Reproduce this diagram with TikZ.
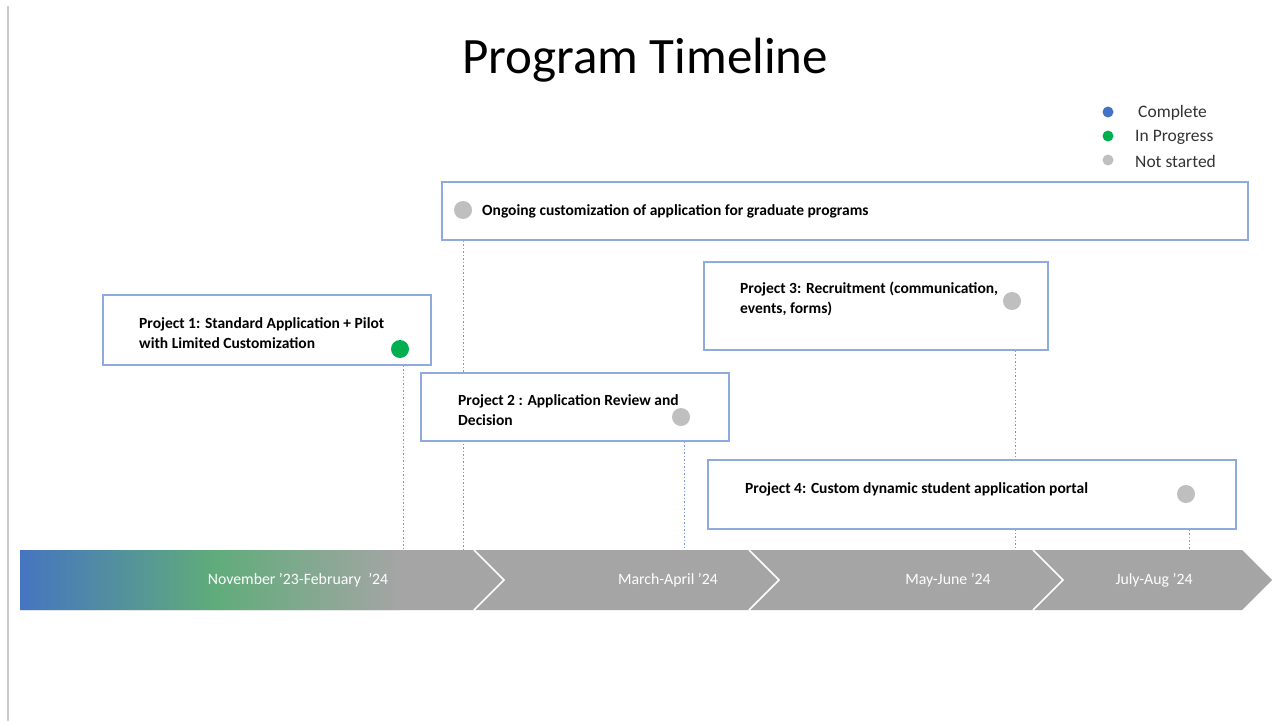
\documentclass[tikz,border=0pt]{standalone}
\usepackage{fontspec}
\setmainfont{Carlito}
\usetikzlibrary{positioning,calc,backgrounds}
\definecolor{done}{RGB}{68,114,196}
\definecolor{progress}{RGB}{0,176,80}
\definecolor{notstarted}{RGB}{191,191,191}
\definecolor{bandgray}{RGB}{165,165,165}
\definecolor{boxline}{RGB}{143,170,220}
\definecolor{guideblue}{RGB}{120,152,218}
\definecolor{midgreen}{RGB}{96,172,122}

\begin{document}
\begin{tikzpicture}[x=1pt,y=-1pt,
    taskbox/.style={draw=boxline, line width=1.2pt, fill=white, inner sep=0pt},
    tasktext/.style={anchor=west, align=left, inner sep=0pt, font=\fontsize{15.5}{20}\selectfont\bfseries},
    statusdot/.style={circle, fill=#1, inner sep=0pt, minimum size=18pt},
    keydot/.style={circle, fill=#1, inner sep=0pt, minimum size=11pt},
    keytext/.style={anchor=west, inner sep=0pt, text=black!80, font=\fontsize{17.5}{20}\selectfont},
    guide/.style={guideblue, dash pattern=on 1.5pt off 2pt, line width=1pt},
    phase/.style={text=white, font=\fontsize{15.8}{18}\selectfont}]
        \useasboundingbox (0,0) rectangle (1273,721);
        \draw[black!20, line width=1.5pt] (8,6) -- (8,721);

        \node[font=\fontsize{51}{56}\selectfont] (title) at (645,60) {Program Timeline};

        % legend
        \node[keydot=done] (kdone) at (1108,112) {};
        \node[keydot=progress] (kprog) at (1108,136) {};
        \node[keydot=notstarted] (knot) at (1108,160) {};
        \node[keytext] (kdonetext) at (1138,113) {Complete};
        \node[keytext] (kprogtext) at (1135,137) {In Progress};
        \node[keytext] (knottext) at (1135,161) {Not started};

        % project boxes
        \node[taskbox, minimum width=806pt, minimum height=58pt] (ongoing) at (845,211) {};
        \node[taskbox, minimum width=328pt, minimum height=70pt] (p1) at (267,330) {};
        \node[taskbox, minimum width=308pt, minimum height=68pt] (p2) at (575,407) {};
        \node[taskbox, minimum width=344pt, minimum height=88pt] (p3) at (876,306) {};
        \node[taskbox, minimum width=528pt, minimum height=69pt] (p4) at (972,494.5) {};

        \node[tasktext] (ongoingtext) at (482,211) {Ongoing customization of application for graduate programs};
        \node[tasktext] (p1text) at (139,333) {Project 1: Standard Application + Pilot\\with Limited Customization};
        \node[tasktext] (p2text) at (458,410) {Project 2 : Application Review and\\Decision};
        \node[tasktext] (p3text) at (740,299) {Project 3: Recruitment (communication,\\events, forms)};
        \node[tasktext] (p4text) at (745,489) {Project 4: Custom dynamic student application portal};

        \node[statusdot=notstarted] (ongoingdot) at (463,210) {};
        \node[statusdot=progress] (p1dot) at (400,349) {};
        \node[statusdot=notstarted] (p2dot) at (681,417) {};
        \node[statusdot=notstarted] (p3dot) at (1012,301) {};
        \node[statusdot=notstarted] (p4dot) at (1186,494) {};

        % timeline band
        \coordinate (bandtop) at (0,550);
        \begin{scope}
          \clip (20,550) -- (1242,550) -- (1272,580) -- (1242,610) -- (20,610) -- cycle;
          \fill[bandgray] (10,540) rectangle (1280,620);
          \shade[left color=done, right color=midgreen] (10,540) rectangle (216,620);
          \shade[left color=midgreen, right color=bandgray] (215,540) rectangle (400,620);
        \end{scope}
        \foreach \x in {474,749,1033}
          \draw[white, line width=1.5pt] (\x,550) -- (\x+30,580) -- (\x,610);

        \node[phase] (nov) at (298,580) {November '23-February \ '24};
        \node[phase] (mar) at (668,580) {March-April '24};
        \node[phase] (may) at (948,580) {May-June '24};
        \node[phase] (jul) at (1154,580) {July-Aug '24};

        \begin{scope}[on background layer]
          \draw[guide] (ongoingdot |- ongoing.south) -- (ongoingdot |- bandtop);
          \draw[guide] ([xshift=3pt]p1dot |- p1.south) -- ([xshift=3pt]p1dot |- bandtop);
          \draw[guide] ([xshift=3pt]p2dot |- p2.south) -- ([xshift=3pt]p2dot |- bandtop);
          \draw[guide] ([xshift=3pt]p3dot |- p3.south) -- ([xshift=3pt]p3dot |- bandtop);
          \draw[guide] ([xshift=3pt]p4dot |- p4.south) -- ([xshift=3pt]p4dot |- bandtop);
        \end{scope}
      \end{tikzpicture}
\end{document}
